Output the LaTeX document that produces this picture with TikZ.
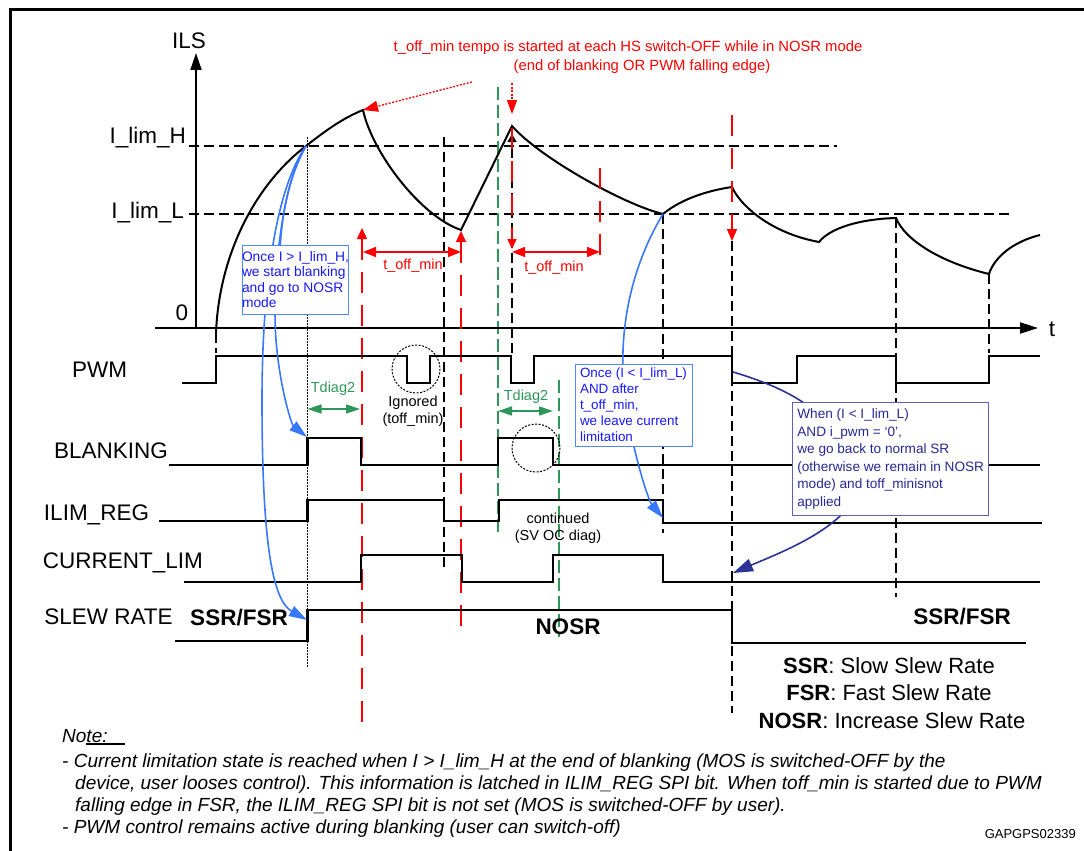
\documentclass[tikz,border=0pt]{standalone}
\usepackage{fontspec}
\setmainfont{Liberation Sans}
\usetikzlibrary{arrows.meta}
\definecolor{ared}{RGB}{255,0,0}
\definecolor{agreen}{RGB}{46,150,90}
\definecolor{ablue}{RGB}{55,120,255}
\definecolor{tblue}{RGB}{25,25,255}
\definecolor{bblue}{RGB}{80,135,255}
\definecolor{navyt}{RGB}{40,40,150}
\definecolor{navyb}{RGB}{95,95,190}
\definecolor{navyc}{RGB}{45,50,150}
\begin{document}
\begin{tikzpicture}[x=1pt,y=-1pt,
  every node/.style={inner sep=0pt},
  lbl/.style={font=\fontsize{22.5}{27}\selectfont},
  boldlbl/.style={font=\fontsize{22.5}{27}\selectfont\bfseries},
  smalltxt/.style={font=\fontsize{14.5}{17.5}\selectfont},
  notetxt/.style={font=\fontsize{19}{22}\selectfont\itshape, anchor=west},
  legtxt/.style={font=\fontsize{22}{27}\selectfont},
  wave/.style={line width=2.1pt, line join=miter},
  ilscurve/.style={line width=2pt},
  axis/.style={line width=2pt},
  griddash/.style={line width=1.4pt, dash pattern=on 10pt off 5pt},
  dotl/.style={line width=1pt, dash pattern=on 1.5pt off 1.5pt},
  dotcircle/.style={line width=1pt, dash pattern=on 2pt off 1.5pt},
  reddash/.style={ared, line width=1.5pt, dash pattern=on 21pt off 12pt},
  reddot/.style={ared, line width=1.3pt, dash pattern=on 2pt off 1.5pt},
  redmeas/.style={ared, line width=1.5pt, {Triangle[length=13pt,width=10pt]}-{Triangle[length=13pt,width=10pt]}},
  greendash/.style={agreen, line width=1.3pt, dash pattern=on 13pt off 5pt},
  greenmeas/.style={agreen, line width=1.5pt, {Triangle[length=14pt,width=9pt]}-{Triangle[length=14pt,width=9pt]}},
  bluecall/.style={ablue, line width=1.6pt},
  navycall/.style={navyc, line width=1.6pt},
  bluebox/.style={draw=bblue, line width=1pt, fill=white, text=tblue, align=left, font=\fontsize{13.8}{15.6}\selectfont},
  navybox/.style={draw=navyb, line width=1pt, fill=white, text=navyt, align=left, font=\fontsize{13.6}{17.5}\selectfont}
]
\useasboundingbox (0,0) rectangle (1084,851);

% frame
\draw[line width=3pt] (10,851) -- (10,10) -- (1084,10);

% ---------- coordinates on the ILS curve ----------
\coordinate (c0) at (216,333);
\coordinate (pH) at (306,146);
\coordinate (pk1) at (363,110);
\coordinate (mn1) at (461,230);
\coordinate (pk2) at (512,126);
\coordinate (mn2) at (663,214);
\coordinate (pk3) at (732,187);
\coordinate (mn3) at (819,242);
\coordinate (pk4) at (896,218);
\coordinate (mn4) at (989,274);
\coordinate (c9) at (1040,235);

% grid lines
\draw[griddash] (189,146) -- (837,146);
\draw[griddash] (189,214) -- (1010,214);

% vertical black markers
\draw[dotl] (307,137) -- (307,667);
\draw[griddash] (444,137) -- (444,568);
\draw[griddash] (216,333) -- (216,353);
\draw[griddash] (663,214) -- (663,533);
\draw[griddash] (732,241) -- (732,713);
\draw[griddash] (896,218) -- (896,597);
\draw[griddash] (989,274) -- (989,353);

% green markers
\draw[greendash] (498,87) -- (498,532);
\draw[greendash] (559,380) -- (559,637);

% axes
\draw[axis, -{Triangle[length=17pt,width=11pt]}] (196,328) -- (196,53);
\draw[axis, -{Triangle[length=18pt,width=11pt]}] (155,328) -- (1038,328);
\node[lbl] (lILS) at (189,41) {ILS};
\node[lbl] (lt) at (1052,329) {t};
\node[lbl] (lzero) at (182,313) {0};
\node[lbl, anchor=east] (lH) at (186,138) {I\_lim\_H};
\node[lbl, anchor=east] (lL) at (184,213) {I\_lim\_L};

% ILS curve
\draw[ilscurve] (c0) .. controls (219,255) and (255,185) .. (pH)
  .. controls (325,131) and (343,118) .. (pk1)
  .. controls (372,152) and (420,216) .. (mn1)
  -- (pk2)
  .. controls (540,158) and (625,205) .. (mn2)
  .. controls (680,200) and (705,191) .. (pk3)
  .. controls (740,205) and (770,233) .. (mn3)
  .. controls (830,228) and (860,219) .. (pk4)
  .. controls (905,240) and (940,262) .. (mn4)
  .. controls (994,258) and (1012,242) .. (c9);

% red markers
\draw[reddash, {Triangle[length=11pt,width=10pt]}-] (362,228) -- (362,730);
\draw[reddash, {Triangle[length=11pt,width=10pt]}-] (461,231) -- (461,632);
\draw[reddash] (600,168) -- (600,256);
\draw[redmeas] (363,252) -- (461,252);
\draw[redmeas] (512,252) -- (600,252);
\node[smalltxt, text=ared] (toff1) at (413,266) {t\_off\_min};
\node[smalltxt, text=ared] (toff2) at (554,268) {t\_off\_min};
\draw[reddot, -{Triangle[length=15pt,width=11pt]}] (472,82) -- (pk1);
\draw[reddot, -{Triangle[length=14pt,width=10pt]}] (512,83) -- (512,114);
\draw[griddash, -{Triangle[length=8pt,width=9pt]}] (512,353) -- (512,134);
\draw[reddash, -{Triangle[length=10pt,width=9pt]}] (512,128) -- (512,249);
\draw[reddash, -{Triangle[length=12pt,width=10pt]}] (732,115) -- (732,241);
\node[text=ared, font=\fontsize{14.8}{19}\selectfont] (rt1) at (628,48) {t\_off\_min tempo is started at each HS switch-OFF while in NOSR mode};
\node[text=ared, font=\fontsize{14.8}{19}\selectfont] (rt2) at (642,67) {(end of blanking OR PWM falling edge)};

% ---------- signals ----------
\node[lbl] (lPWM) at (99.5,370) {PWM};
\node[lbl] (lBL) at (111,451) {BLANKING};
\node[lbl] (lIR) at (96.5,515) {ILIM\_REG};
\node[lbl] (lCL) at (123,563) {CURRENT\_LIM};
\node[lbl] (lSR) at (108.5,617) {SLEW RATE};

\draw[wave] (182,383) -- (216,383) -- (216,356) -- (407,356) -- (407,383) -- (430,383) -- (430,356)
  -- (511,356) -- (511,383) -- (534,383) -- (534,356) -- (732,356) -- (732,383) -- (797,383)
  -- (797,356) -- (896,356) -- (896,383) -- (989,383) -- (989,356) -- (1040,356);
\draw[wave] (169,465) -- (307.5,465) -- (307.5,438) -- (361,438) -- (361,465) -- (498,465)
  -- (498,438) -- (553,438) -- (553,465) -- (1040,465);
\draw[wave] (159,521) -- (307.5,521) -- (307.5,500) -- (444,500) -- (444,521) -- (499,521)
  -- (499,500) -- (663,500) -- (663,523) -- (1042,523);
\draw[wave] (184,582) -- (361,582) -- (361,555) -- (462,555) -- (462,582) -- (553,582)
  -- (553,555) -- (663,555) -- (663,582) -- (1040,582);
\draw[wave] (175,641) -- (307.5,641) -- (307.5,610) -- (732,610) -- (732,643) -- (1026,643);

\draw[dotcircle] (416,369) circle[radius=24];
\draw[dotcircle] (536,448) circle[radius=24];
\node[smalltxt, align=center] (ign) at (413,411) {Ignored\\(toff\_min)};
\node[smalltxt, align=center] (cont) at (558,528) {continued\\(SV OC diag)};

\draw[greenmeas] (307.5,409) -- (360,409);
\draw[greenmeas] (498,411) -- (553,411);
\node[smalltxt, text=agreen] (td1) at (333,389) {Tdiag2};
\node[smalltxt, text=agreen] (td2) at (526,397) {Tdiag2};

\node[boldlbl] (ssr1) at (239,618) {SSR/FSR};
\node[boldlbl] (nosr) at (568,627) {NOSR};
\node[boldlbl] (ssr2) at (962,617) {SSR/FSR};

% ---------- callouts ----------
\coordinate (blR) at (307,437);
\coordinate (srR) at (307,620);
\coordinate (irF) at (663,518);
\coordinate (pwF) at (733,372);
\coordinate (clF) at (733,573);
\draw[bluecall, -{Triangle[length=18pt,width=11pt]}] (pH) .. controls (280,185) and (272,290) .. (276,340)
   .. controls (280,390) and (292,425) .. (blR);
\draw[bluecall, -{Triangle[length=18pt,width=11pt]}] (pH) .. controls (275,190) and (262,290) .. (262,400)
   .. controls (262,540) and (272,600) .. (srR);
\draw[bluecall] (pH) .. controls (290,175) and (282,210) .. (280,250);
\draw[bluecall, -{Triangle[length=18pt,width=11pt]}] (mn2) .. controls (638,255) and (621,310) .. (623,370)
   .. controls (625,430) and (648,500) .. (irF);
\draw[navycall, -{Triangle[length=20pt,width=13pt]}] (pwF) .. controls (760,380) and (785,390) .. (804,403)
   .. controls (830,430) and (850,495) .. (840,516)
   .. controls (815,540) and (770,557) .. (clF);

\node[bluebox, minimum width=105pt, minimum height=69pt] (box1) at (295.5,279.5)
  {Once I > I\_lim\_H,\\we start blanking\\and go to NOSR\\mode};
\node[bluebox, font=\fontsize{13.4}{16}\selectfont, minimum width=117pt, minimum height=82pt] (box2) at (633.5,405)
  {Once (I < I\_lim\_L)\\AND after\\t\_off\_min,\\we leave current\\limitation};
\node[navybox, minimum width=196.5pt, minimum height=113pt] (box3) at (890.7,459)
  {When (I < I\_lim\_L)\\AND i\_pwm = ‘0’,\\we go back to normal SR\\(otherwise we remain in NOSR\\mode) and toff\_minisnot\\applied};

% ---------- legend ----------
\node[legtxt] (leg1) at (889,666) {\textbf{SSR}: Slow Slew Rate};
\node[legtxt] (leg2) at (889,693) {\textbf{FSR}: Fast Slew Rate};
\node[legtxt] (leg3) at (892,721) {\textbf{NOSR}: Increase Slew Rate};

% ---------- notes ----------
\node[notetxt] (note0) at (62,736) {Note:};
\draw[line width=2.5pt] (86,744) -- (125,744);
\node[notetxt] (note1) at (62,763) {- Current limitation state is reached when I > I\_lim\_H at the end of blanking (MOS is switched-OFF by the};
\node[notetxt] (note2) at (75,785) {device, user looses control). This information is latched in ILIM\_REG SPI bit. When toff\_min is started due to PWM};
\node[notetxt] (note3) at (75,807) {falling edge in FSR, the ILIM\_REG SPI bit is not set (MOS is switched-OFF by user).};
\node[notetxt] (note4) at (62,829) {- PWM control remains active during blanking (user can switch-off)};
\node[font=\fontsize{13}{15}\selectfont, anchor=east] (code) at (1076,834) {GAPGPS02339};
\end{tikzpicture}
\end{document}
